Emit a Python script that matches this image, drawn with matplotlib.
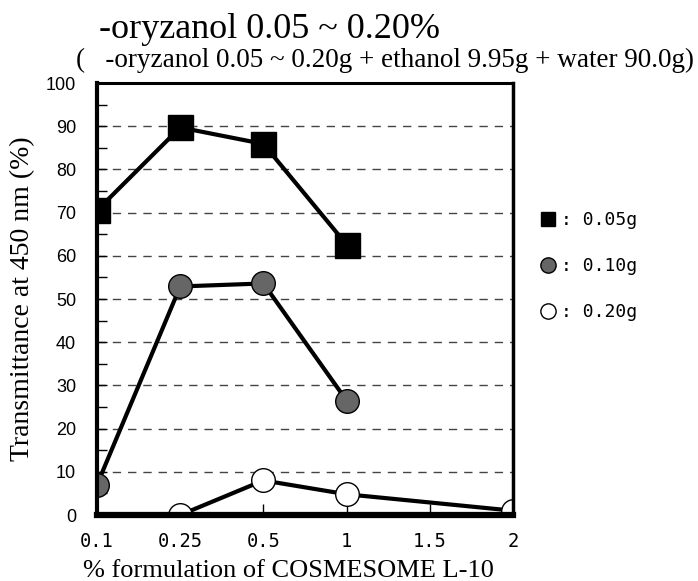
import matplotlib
matplotlib.use("Agg")
import matplotlib.pyplot as plt
from matplotlib.lines import Line2D
import numpy as np

# ---- data ----
x_labels = ["0.1", "0.25", "0.5", "1", "1.5", "2"]
idx_005 = [0, 1, 2, 3]
val_005 = [70.5, 89.7, 85.9, 62.6]
idx_010 = [0, 1, 2, 3]
val_010 = [7.0, 52.9, 53.6, 26.5]
idx_020 = [1, 2, 3, 5]
val_020 = [0.0, 8.0, 4.8, 1.0]
legend_labels = [": 0.05g", ": 0.10g", ": 0.20g"]
y_ticks = list(range(0, 101, 10))

W, H = 698, 581
fig = plt.figure(figsize=(W / 100, H / 100), dpi=100)
ax = fig.add_axes([97 / W, 1 - 515 / H, (513 - 97) / W, (515 - 83) / H])

sans = "Liberation Sans"
mono = "DejaVu Sans Mono"
serif = "Liberation Serif"

# gridlines
for v in y_ticks[1:-1]:
    ax.axhline(v, color="#444444", lw=1.0, ls=(0, (6, 5)), zorder=1)

l1, = ax.plot(idx_005, val_005, color="black", lw=3, marker="s", ms=18,
              mfc="black", mec="black", mew=1, zorder=3)
l2, = ax.plot(idx_010, val_010, color="black", lw=3, marker="o", ms=17,
              mfc="#666666", mec="black", mew=1, zorder=3)
l3, = ax.plot(idx_020, val_020, color="black", lw=3, marker="o", ms=17,
              mfc="white", mec="black", mew=1, zorder=3)

ax.set_xlim(0, 5)
ax.set_ylim(0, 100)
ax.set_xticks(range(len(x_labels)))
ax.set_xticklabels(x_labels, fontfamily=mono, fontsize=13.5)
ax.set_yticks(y_ticks)
ax.set_yticklabels([str(v) for v in y_ticks], fontfamily=sans, fontsize=13)
ax.set_yticks(np.arange(5, 100, 10), minor=True)
ax.tick_params(axis="x", direction="in", length=8, width=1, pad=12)
ax.tick_params(axis="y", which="both", direction="in", length=7, width=1, pad=15)

for side, w in [("left", 3.0), ("bottom", 4.5), ("top", 2.2), ("right", 2.5)]:
    ax.spines[side].set_linewidth(w)
    ax.spines[side].set_zorder(4)

ax.set_xlabel("% formulation of COSMESOME L-10", fontfamily=serif, fontsize=19)
ax.xaxis.set_label_coords(0.46, -0.105)
ax.set_ylabel("Transmittance at 450 nm (%)", fontfamily=serif, fontsize=20,
              labelpad=8)

fig.text(99 / W, 1 - 38 / H, "-oryzanol 0.05 ~ 0.20%", fontfamily=serif,
         fontsize=26, va="baseline", ha="left")
fig.text(76 / W, 1 - 67 / H,
         "(   -oryzanol 0.05 ~ 0.20g + ethanol 9.95g + water 90.0g)",
         fontfamily=serif, fontsize=19.5, va="baseline", ha="left")

handles = [
    Line2D([], [], ls="none", marker="s", ms=10, mfc="black", mec="black"),
    Line2D([], [], ls="none", marker="o", ms=11, mfc="#666666", mec="black"),
    Line2D([], [], ls="none", marker="o", ms=11, mfc="white", mec="black"),
]
fig.legend(handles, legend_labels, loc="upper left",
           bbox_to_anchor=(523 / W, 1 - 195 / H), frameon=False,
           prop={"family": mono, "size": 13}, labelspacing=1.55,
           handlelength=1.0, handletextpad=0.2)

fig.savefig("out.png", dpi=100)
